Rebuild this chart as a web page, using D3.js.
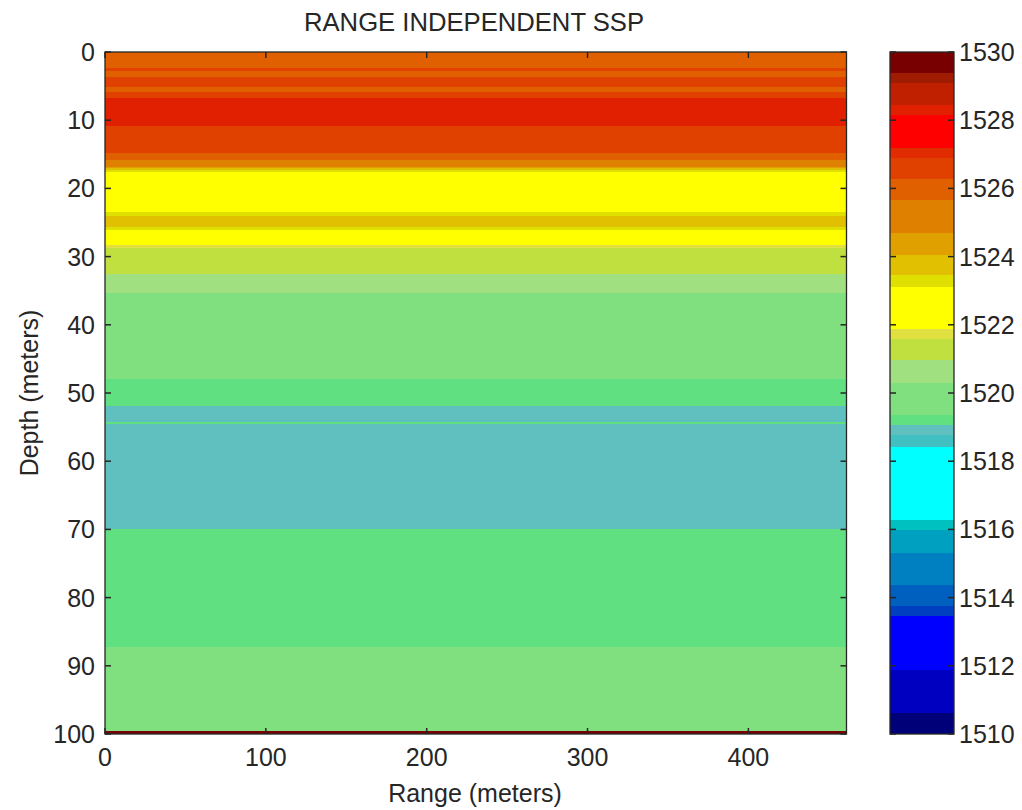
<!DOCTYPE html>
<html>
<head>
<meta charset="utf-8">
<script src="https://cdn.jsdelivr.net/npm/d3@7"></script>
<style>
  html, body { margin: 0; padding: 0; background: #fff; }
  svg { display: block; }
  text { font-family: "Liberation Sans", Arial, Helvetica, sans-serif; fill: #262626; }
</style>
</head>
<body>
<svg id="chart" width="1022" height="810"></svg>
<script>
// ---- data ----
const titleText = "RANGE INDEPENDENT SSP";
const xLabelText = "Range (meters)";
const yLabelText = "Depth (meters)";
const rangeMax = 461;                 // meters
const depthMax = 100;                 // meters
// layer boundaries (depth, m) and sound speed in each layer (m/s)
const bandDepths = [0, 2.4, 2.8, 3.6, 5.1, 5.8, 6.8, 10.9, 14.8, 15.8, 16.8, 17.05, 17.3, 17.55,
                    23.4, 24.1, 25.6, 26.1, 28.3, 28.7, 32.6, 35.3, 48.0, 51.9, 54.3, 54.6, 70.0, 87.3, 99.6, 100];
const bandSpeeds = [1526.0, 1526.5, 1526.0, 1526.5, 1526.0, 1526.5, 1528.3, 1526.5, 1526.0, 1525.2,
                    1524.4, 1523.8, 1523.3, 1522.5, 1523.3, 1523.8, 1523.3, 1522.5, 1521.75, 1521.3,
                    1520.6, 1519.8, 1519.2, 1518.9, 1519.2, 1518.9, 1519.2, 1519.8, 1529.7];
// colour levels (m/s) and colours between them
const cbLevels = [1510, 1510.64, 1511.9, 1513.46, 1513.76, 1514.39, 1515.32, 1516.0, 1516.3, 1518.44,
                  1518.78, 1519.08, 1519.37, 1520.3, 1520.98, 1521.6, 1521.9, 1523.13, 1523.47, 1524.06,
                  1524.7, 1525.67, 1526.3, 1526.9, 1527.2, 1528.16, 1528.45, 1529.1, 1529.4, 1530];
const cbColors = ["#000078", "#0000c0", "#0000ff", "#0040c0", "#0060c0", "#0080c0", "#00a0c0", "#00c0c0",
                  "#00ffff", "#40c0c0", "#60c0c0", "#60e080", "#80e080", "#a0e080", "#c0e040", "#e0e040",
                  "#ffff00", "#e0e000", "#e0c000", "#e0a000", "#e08000", "#e06000", "#e04000", "#e02c00",
                  "#ff0000", "#e02000", "#c02000", "#a01c00", "#780000"];
const xTicks = [0, 100, 200, 300, 400];
const yTicks = [0, 10, 20, 30, 40, 50, 60, 70, 80, 90, 100];
const cbTicks = [1510, 1512, 1514, 1516, 1518, 1520, 1522, 1524, 1526, 1528, 1530];

// ---- layout ----
const svg = d3.select("#chart");
const P = { left: 105, right: 846.5, top: 52, bottom: 734 };
const CB = { left: 890, right: 954 };
const FS = 25;

const x = d3.scaleLinear().domain([0, rangeMax]).range([P.left, P.right]);
const y = d3.scaleLinear().domain([0, depthMax]).range([P.top, P.bottom]);
const cbY = d3.scaleLinear().domain([1510, 1530]).range([P.bottom, P.top]);
const color = d3.scaleThreshold().domain(cbLevels.slice(1, -1)).range(cbColors);

// bands
const bands = bandSpeeds.map((s, i) => ({ d0: bandDepths[i], d1: bandDepths[i + 1], s }));
svg.append("g").selectAll("rect").data(bands).join("rect")
  .attr("x", x(0)).attr("width", x(rangeMax) - x(0))
  .attr("y", d => y(d.d0)).attr("height", d => y(d.d1) - y(d.d0) + 0.4)
  .attr("fill", d => color(d.s)).attr("shape-rendering", "crispEdges");

// axes box
svg.append("rect").attr("x", P.left).attr("y", P.top)
  .attr("width", P.right - P.left).attr("height", P.bottom - P.top)
  .attr("fill", "none").attr("stroke", "#262626").attr("stroke-width", 1.3);

const tl = 6;
const tickG = svg.append("g").attr("stroke", "#262626").attr("stroke-width", 1.5);
xTicks.forEach(t => {
  tickG.append("line").attr("x1", x(t)).attr("x2", x(t)).attr("y1", P.bottom).attr("y2", P.bottom - tl);
  tickG.append("line").attr("x1", x(t)).attr("x2", x(t)).attr("y1", P.top).attr("y2", P.top + tl);
});
yTicks.forEach(t => {
  tickG.append("line").attr("x1", P.left).attr("x2", P.left + tl).attr("y1", y(t)).attr("y2", y(t));
  tickG.append("line").attr("x1", P.right).attr("x2", P.right - tl).attr("y1", y(t)).attr("y2", y(t));
});

svg.append("g").selectAll("text").data(xTicks).join("text")
  .attr("x", d => x(d)).attr("y", 766).attr("text-anchor", "middle")
  .attr("font-size", FS).text(d => d);
svg.append("g").selectAll("text").data(yTicks).join("text")
  .attr("x", 95).attr("y", d => y(d) + 9).attr("text-anchor", "end")
  .attr("font-size", FS).text(d => d);

// title and labels
svg.append("text").attr("x", 474).attr("y", 31).attr("text-anchor", "middle")
  .attr("font-size", FS).attr("textLength", 340).attr("lengthAdjust", "spacingAndGlyphs").text(titleText);
svg.append("text").attr("x", 475).attr("y", 802).attr("text-anchor", "middle")
  .attr("font-size", FS).text(xLabelText);
svg.append("text").attr("transform", "translate(38,393) rotate(-90)").attr("text-anchor", "middle")
  .attr("font-size", FS).text(yLabelText);

// colorbar
const cbBands = cbColors.map((c, i) => ({ v0: cbLevels[i], v1: cbLevels[i + 1], c }));
svg.append("g").selectAll("rect").data(cbBands).join("rect")
  .attr("x", CB.left).attr("width", CB.right - CB.left)
  .attr("y", d => cbY(d.v1)).attr("height", d => cbY(d.v0) - cbY(d.v1) + 0.4)
  .attr("fill", d => d.c).attr("shape-rendering", "crispEdges");
svg.append("rect").attr("x", CB.left).attr("y", P.top)
  .attr("width", CB.right - CB.left).attr("height", P.bottom - P.top)
  .attr("fill", "none").attr("stroke", "#262626").attr("stroke-width", 1.3);
const cbTickG = svg.append("g").attr("stroke", "#262626").attr("stroke-width", 1.5);
cbTicks.forEach(t => {
  cbTickG.append("line").attr("x1", CB.left).attr("x2", CB.left + tl).attr("y1", cbY(t)).attr("y2", cbY(t));
  cbTickG.append("line").attr("x1", CB.right).attr("x2", CB.right - tl).attr("y1", cbY(t)).attr("y2", cbY(t));
});
svg.append("g").selectAll("text").data(cbTicks).join("text")
  .attr("x", 959).attr("y", d => cbY(d) + 9).attr("text-anchor", "start")
  .attr("font-size", FS).text(d => d);
</script>
</body>
</html>
